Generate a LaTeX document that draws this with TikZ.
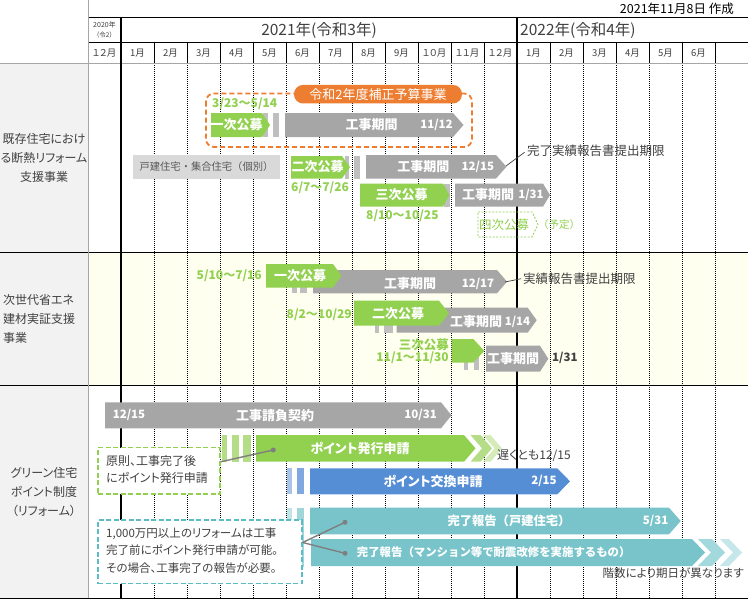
\documentclass[tikz,border=0pt]{standalone}
\usepackage{fontspec}
\setmainfont[RawFeature=+palt]{Noto Sans CJK JP}
\newfontfamily\npf{Noto Sans CJK JP}
\usetikzlibrary{calc}
\definecolor{grn}{HTML}{92D050}
\definecolor{grnL}{HTML}{B5DC86}
\definecolor{grnLL}{HTML}{D5ECBA}
\definecolor{gry}{HTML}{A6A6A6}
\definecolor{gryL}{HTML}{BFBFBF}
\definecolor{gryLL}{HTML}{D9D9D9}
\definecolor{org}{HTML}{ED7D31}
\definecolor{blu}{HTML}{558ED5}
\definecolor{bluL}{HTML}{A9C4EB}
\definecolor{bluM}{HTML}{7FA7E0}
\definecolor{tea}{HTML}{78C4CA}
\definecolor{teaL}{HTML}{C0E5E8}
\definecolor{teaM}{HTML}{A0D6DA}
\definecolor{teaC}{HTML}{A3D8DC}
\definecolor{teaCC}{HTML}{C5E7EA}
\definecolor{teaD}{HTML}{5BBCC4}
\definecolor{txt}{HTML}{404040}
\definecolor{txtL}{HTML}{595959}
\definecolor{ivory}{HTML}{FFFFF0}
\definecolor{colbg}{HTML}{F2F2F2}
\definecolor{dotc}{HTML}{7F7F7F}
\definecolor{lgry}{HTML}{A6A6A6}
\newcommand\fsz[2]{\fontsize{#1pt}{#2pt}\selectfont}
\newcommand\mybar[6]{\fill[#1] (#2,#4) -- (#3,#4) -- ({#3+#6},{(#4+#5)/2}) -- (#3,#5) -- (#2,#5) -- cycle;}
\newcommand\mychev[6]{\fill[#1] (#2,#4) -- (#3,#4) -- ({#3+#6},{(#4+#5)/2}) -- (#3,#5) -- (#2,#5) -- ({#2+#6},{(#4+#5)/2}) -- cycle;}
\newcommand\mystrip[5]{\fill[#1] (#2,#4) rectangle (#3,#5);}
\tikzset{
  wt/.style={text=white, font=\bfseries\fsz{13}{15}, inner sep=0pt},
  wd/.style={text=white, font=\bfseries\fsz{11.5}{14}, inner sep=0pt},
  gt/.style={text=grn, font=\bfseries\fsz{12}{14}, inner sep=0pt},
  dt/.style={text=txt, font=\fsz{12}{14}, inner sep=0pt},
  mt/.style={text=txt, font=\fsz{9.5}{11}, inner sep=0pt},
  vdot/.style={line width=0.7pt, dash pattern=on 1pt off 1pt},
  conn/.style={draw=dotc, line width=1.4pt},
  leader/.style={draw=txt, line width=0.7pt},
  dotn/.style={circle, fill=dotc, inner sep=0pt, minimum size=5pt},
  callout/.style={dashed, dash pattern=on 5pt off 2.5pt, line width=1.6pt, fill=white, inner sep=0pt, anchor=north west},
}
\begin{document}
\begin{tikzpicture}[x=1pt,y=-1pt]
\useasboundingbox (0,0) rectangle (748,600);
% backgrounds
\fill[white] (0,0) rectangle (748,600);
\fill[colbg] (0,63) rectangle (88,598);
\fill[ivory] (88,252) rectangle (748,385);
% dotted month lines
\foreach \k in {1,...,11} \draw[vdot] ({121+33*\k},63) -- ({121+33*\k},598);
\foreach \k in {13,...,18} \draw[vdot] ({121+33*\k},63) -- ({121+33*\k},598);
% header month separators
\foreach \k in {1,...,11} \draw[line width=0.8pt] ({121+33*\k},42) -- ({121+33*\k},63);
\foreach \k in {13,...,18} \draw[line width=0.8pt] ({121+33*\k},42) -- ({121+33*\k},63);
% horizontal lines
\draw[line width=0.8pt] (88,17) -- (748,17);
\draw[line width=0.8pt] (88,42) -- (748,42);
\draw[lgry, line width=1pt] (0,63) -- (748,63);
\draw[line width=0.9pt] (0,252) -- (748,252);
\draw[line width=0.9pt] (0,385) -- (748,385);
\draw[line width=0.9pt] (0,598) -- (748,598);
\draw[lgry, line width=1pt] (88,0) -- (88,598);
\draw[line width=2.2pt] (121,17) -- (121,598);
\draw[line width=2.2pt] (517,17) -- (517,598);
% header texts
\node[anchor=east, text=black, font=\fsz{12.5}{14}, inner sep=0pt] (made) at (734,9) {2021年11月8日 作成};
\node[text=txt, font=\fsz{15.5}{17}, inner sep=0pt] (y2021) at (319,30.5) {2021年(令和3年)};
\node[anchor=west, text=txt, font=\fsz{15.5}{17}, inner sep=0pt] (y2022) at (520,30.5) {2022年(令和4年)};
\node[text=txt, font=\fsz{7}{8}, inner sep=0pt] (y2020) at (104.5,24.7) {2020年};
\node[text=txt, font=\fsz{6.5}{8}, inner sep=0pt] (r2) at (104.5,35.3) {（令2）};
\node[mt] (m12) at (104.5,53) {１２月};
\foreach \m [count=\i from 0] in {1月,2月,3月,4月,5月,6月,7月,8月,9月,１０月,１１月,１２月,1月,2月,3月,4月,5月,6月}
  \node[mt] (m\i) at ({137.5+33*\i},53) {\m};
% left labels
\node[align=center, text=txt, font=\fsz{12}{19}, inner sep=0pt] (lab1) at (44,158) {既存住宅におけ\\る断熱リフォーム\\支援事業};
\node[anchor=west, align=left, text=txt, font=\fsz{12}{19}, inner sep=0pt] (lab2) at (3,319) {次世代省エネ\\建材実証支援\\事業};
\node[align=center, text=txt, font=\fsz{12}{19}, inner sep=0pt] (lab3) at (44,492) {グリーン住宅\\ポイント制度\\（リフォーム）};

% ===== Section 1 =====
\draw[org, line width=1.8pt, rounded corners=8pt, dash pattern=on 5pt off 3pt] (206,93.5) rectangle (472,147);
\node[fill=org, text=white, rounded corners=9pt, minimum width=168pt, minimum height=18.5pt, inner sep=0pt, font=\fsz{13}{15}] (hosei) at (378,94.2) {令和2年度補正予算事業};
\node[gt, anchor=west] (d11) at (212,104) {3/23～5/14};
\mystrip{gryL}{263}{268}{113}{137}
\mystrip{gryL}{273}{279}{113}{137}
\mybar{grn}{211}{262}{113}{137}{8}
\mybar{gry}{285}{453}{113}{137}{10.5}
\node[wt] (b11) at (236.5,125) {一次公募};
\node[wt] (b12) at (371.5,125) {工事期間};
\node[wd] (b13) at (436.5,125) {11/12};

\fill[gryLL] (133,155) rectangle (280,179);
\node[text=txtL, font=\npf\fsz{10.3}{12}, inner sep=0pt] (kobetsu) at (206.5,167) {戸建住宅・集合住宅（個別）};

\mystrip{gryL}{345}{349}{156}{178.5}
\mystrip{gryL}{354}{360}{156}{178.5}
\mybar{grn}{291}{342}{156}{178.5}{8}
\mybar{gry}{366}{496}{155}{178.5}{10.5}
\node[wt] (b21) at (317.5,167) {二次公募};
\node[wt] (b22) at (423.3,167) {工事期間};
\node[wd] (b23) at (477.8,167) {12/15};
\node[gt, anchor=west] (d12) at (291,188) {6/7～7/26};
\coordinate (tip1) at (506,166);
\node[dt, anchor=west, font=\fsz{12.5}{14}] (k1) at (527,150.5) {完了実績報告書提出期限};
\draw[leader, shorten >=3pt] (tip1) -- (k1.west);

\mystrip{gryL}{444}{449.5}{183.5}{206.7}
\mybar{grn}{360}{443}{183.5}{206.7}{6.5}
\mybar{gry}{455}{543}{183.5}{206.7}{7}
\node[wt] (b31) at (401.5,195) {三次公募};
\node[wt] (b32) at (488,195) {工事期間};
\node[wd] (b33) at (531,195) {1/31};
\node[gt, anchor=west] (d13) at (366,215.7) {8/10～10/25};

\draw[grn, line width=0.8pt, dash pattern=on 2pt off 1.5pt] (478,212) -- (532,212) -- (538,224.5) -- (532,237) -- (478,237) -- cycle;
\node[text=grn, font=\fsz{12.5}{14}, inner sep=0pt] (b41) at (504,224.5) {四次公募};
\node[text=grn, font=\npf\fsz{10.5}{14}, inner sep=0pt, anchor=west] (b42) at (538,224.5) {（予定）};

% ===== Section 2 =====
\node[gt, anchor=east] (d21) at (262,276) {5/10～7/16};
\mystrip{gryL}{292}{297}{270}{293.3}
\mystrip{gryL}{300}{306.7}{270}{293.3}
\mybar{gry}{313}{497}{270}{293.3}{10}
\mybar{grn}{266}{333}{264}{287.5}{8.5}
\node[wt] (e11) at (300,276) {一次公募};
\node[wt] (e12) at (410,284) {工事期間};
\node[wd] (e13) at (478,284) {12/17};
\coordinate (tip2) at (505,282);
\node[dt, anchor=west, font=\fsz{12.5}{14}] (k2) at (523,278.3) {実績報告書提出期限};
\draw[leader, shorten >=2pt] (tip2) -- (k2.west);

\node[gt, anchor=east] (d22) at (352,314.3) {8/2～10/29};
\mystrip{gryL}{375}{379.3}{307.7}{332.7}
\mystrip{gryL}{384}{392.7}{307.7}{332.7}
\mybar{gry}{396.7}{527.7}{307.7}{332.7}{9}
\mybar{grn}{354}{439}{300.7}{325.7}{10}
\node[wt] (e21) at (398,313.5) {二次公募};
\node[wt] (e22) at (476,322) {工事期間};
\node[wd] (e23) at (517.5,322) {1/14};

\node[gt, anchor=east, font=\bfseries\fsz{12.5}{14}] (d23) at (449,344.3) {三次公募};
\node[gt, anchor=east] (d24) at (449,357.3) {11/1～11/30};
\mystrip{gryL}{464.3}{468.3}{345.7}{370}
\mystrip{gryL}{474}{479.3}{345.7}{370}
\mybar{grn}{451.7}{473.3}{339}{362.7}{11}
\mybar{gry}{486}{540}{345.7}{371.7}{8.3}
\node[wt] (e31) at (513,358.7) {工事期間};
\node[text=txt, font=\bfseries\fsz{11.5}{14}, inner sep=0pt, anchor=west] (e32) at (552,358.3) {1/31};

% ===== Section 3 =====
\mybar{gry}{105}{441}{402.3}{428.3}{10.5}
\node[wd] (f11) at (129,415.3) {12/15};
\node[wt] (f12) at (275,415.3) {工事請負契約};
\node[wd] (f13) at (420.7,415.3) {10/31};

\mystrip{grnL}{222.3}{226.7}{435}{461.7}
\mystrip{grnL}{231.7}{239.3}{435}{461.7}
\mystrip{grnL}{243.3}{250.7}{435}{461.7}
\mybar{grn}{256}{464}{435}{461.7}{11.5}
\mychev{grnL}{470.5}{480.5}{435}{461.7}{11.5}
\mychev{grnLL}{483}{490.5}{435}{461.7}{11.5}
\node[wt] (f21) at (360,448.3) {ポイント発行申請};
\node[dt, anchor=west] (f22) at (497,455.7) {遅くとも12/15};

\mystrip{bluL}{287.3}{292}{468.3}{494.3}
\mystrip{bluM}{296.7}{304}{468.3}{494.3}
\mybar{blu}{310}{557.3}{468.3}{494.3}{12.7}
\node[wt] (f31) at (433,481.3) {ポイント交換申請};
\node[wd] (f32) at (544,481.3) {2/15};

\mystrip{teaL}{287.3}{292}{507.7}{566.7}
\mystrip{teaM}{296.7}{304}{507.7}{566.7}
\mybar{tea}{310}{669}{507.7}{534.3}{11.7}
\mybar{tea}{311}{692}{539}{566}{13}
\mychev{teaC}{698}{712}{539}{566}{13}
\mychev{teaCC}{720}{729}{539}{566}{13}
\node[wt, font=\npf\bfseries\fsz{12.3}{15}] (f41) at (509,521) {完了報告（戸建住宅）};
\node[wd] (f42) at (655.7,521) {5/31};
\node[wt, font=\npf\bfseries\fsz{11.4}{15}] (f51) at (493.7,552.5) {完了報告（マンション等で耐震改修を実施するもの）};
\node[dt, anchor=east, font=\fsz{11.5}{14}] (f52) at (744,573.3) {階数により期日が異なります};

% callouts
\node[callout, draw=grn, minimum width=121.7pt, minimum height=46.6pt] (c1) at (97.3,446.7) {};
\node[dt, anchor=west, align=left, font=\fsz{12}{17.3}] (c1t) at (106,469.7) {原則、工事完了後\\にポイント発行申請};
\node[dotn] (p1) at (273.3,450) {};
\draw[conn] ([yshift=9pt]c1.east) -- (p1.center);

\node[callout, draw=teaD, minimum width=203.7pt, minimum height=63.4pt] (c2) at (97.3,519.3) {};
\node[dt, anchor=west, align=left, font=\fsz{11.5}{17.8}] (c2t) at (106,550.5) {1,000万円以上のリフォームは工事\\完了前にポイント発行申請が可能。\\その場合、工事完了の報告が必要。};
\node[dotn] (p2) at (345,522.3) {};
\node[dotn] (p3) at (345,553.3) {};
\draw[conn] ([yshift=9.3pt]c2.east) -- (p2.center);
\draw[conn] ([yshift=9.3pt]c2.east) -- (p3.center);
\end{tikzpicture}
\end{document}
